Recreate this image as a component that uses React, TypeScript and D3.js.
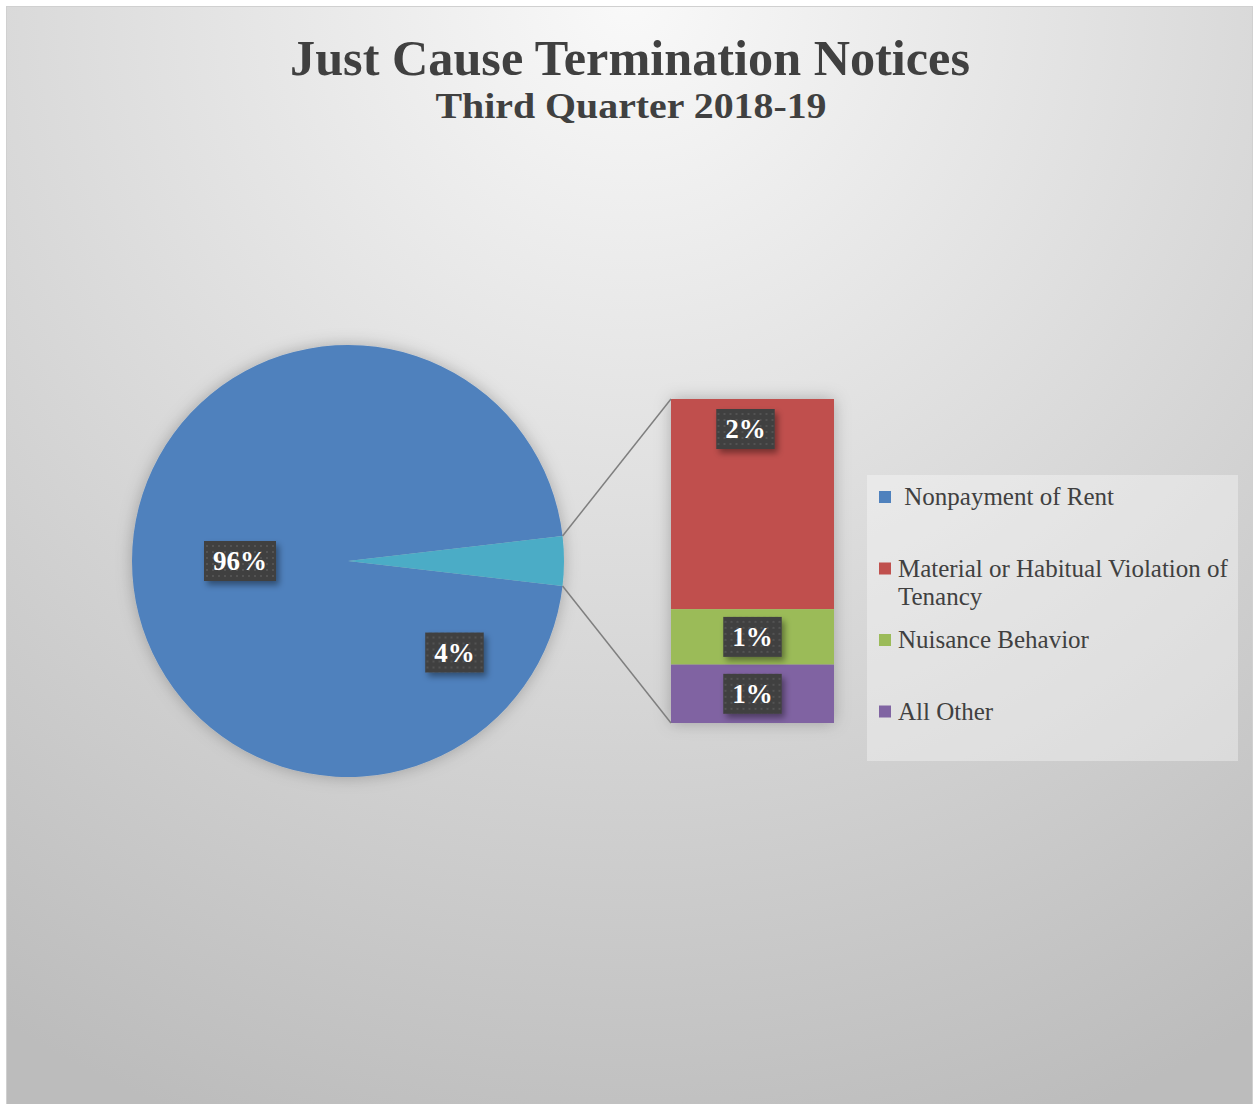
import { useEffect, useRef } from "react"
import * as d3 from "d3"

// chart data
const categories = ["Nonpayment of Rent", "Material or Habitual Violation of Tenancy", "Nuisance Behavior", "All Other"]
const notices = [2890, 72, 19, 20]
const legendLines = [[" Nonpayment of Rent"], ["Material or Habitual Violation of", "Tenancy"], ["Nuisance Behavior"], ["All Other"]]
const colors = ["#4f81bd", "#c0504d", "#9bbb59", "#8064a2"]
const otherColor = "#4bacc6"
const title = "Just Cause Termination Notices"
const subtitle = "Third Quarter 2018-19"

const W = 1255, H = 1104
const FONT = "'Liberation Serif', 'DejaVu Serif', serif"

export default function App() {
    const svgRef = useRef<SVGSVGElement>(null)

    useEffect(() => {
        const svg = d3.select(svgRef.current)
        svg.selectAll("*").remove()
        svg.attr("width", W).attr("height", H)

        const defs = svg.append("defs")
        const bg = defs.append("radialGradient").attr("id", "bg")
            .attr("gradientUnits", "userSpaceOnUse")
            .attr("cx", 630).attr("cy", 0).attr("r", 1200)
        bg.append("stop").attr("offset", 0).attr("stop-color", "#f9f9f9")
        bg.append("stop").attr("offset", 1).attr("stop-color", "#bcbcbc")

        const dots = defs.append("pattern").attr("id", "dots")
            .attr("patternUnits", "userSpaceOnUse").attr("width", 6).attr("height", 6)
        dots.append("rect").attr("width", 6).attr("height", 6).attr("fill", "#404040")
        dots.append("rect").attr("x", 2).attr("y", 2).attr("width", 2).attr("height", 2).attr("fill", "#525252")

        const glow = defs.append("filter").attr("id", "glow")
            .attr("x", "-20%").attr("y", "-20%").attr("width", "140%").attr("height", "140%")
        glow.append("feDropShadow").attr("dx", 0).attr("dy", 0).attr("stdDeviation", 8)
            .attr("flood-color", "#000").attr("flood-opacity", 0.25)

        const lblShadow = defs.append("filter").attr("id", "lblShadow")
            .attr("x", "-30%").attr("y", "-30%").attr("width", "170%").attr("height", "170%")
        lblShadow.append("feDropShadow").attr("dx", 3).attr("dy", 4).attr("stdDeviation", 3)
            .attr("flood-color", "#000").attr("flood-opacity", 0.4)

        // chart area
        svg.append("rect").attr("width", W).attr("height", H).attr("fill", "#fff")
        svg.append("rect")
            .attr("x", 6.5).attr("y", 6.5).attr("width", 1246).attr("height", H)
            .attr("fill", "url(#bg)").attr("stroke", "#d0d0d0")

        // titles
        svg.append("text")
            .attr("x", 630).attr("y", 75)
            .attr("text-anchor", "middle")
            .attr("font-family", FONT).attr("font-weight", "bold").attr("font-size", 50)
            .attr("fill", "#404040")
            .attr("textLength", 680).attr("lengthAdjust", "spacingAndGlyphs")
            .text(title)
        svg.append("text")
            .attr("x", 631).attr("y", 118)
            .attr("text-anchor", "middle")
            .attr("font-family", FONT).attr("font-weight", "bold").attr("font-size", 35)
            .attr("fill", "#404040")
            .attr("textLength", 391).attr("lengthAdjust", "spacingAndGlyphs")
            .text(subtitle)

        const total = d3.sum(notices)
        const small = notices.slice(1)
        const smallTotal = d3.sum(small)
        const pct = d3.format(".0%")

        // pie: main slice + combined "other" slice centred at 3 o'clock
        const cx = 348, cy = 561, r = 216
        const f = smallTotal / total
        const pie = d3.pie<number>().sort(null)
            .startAngle(Math.PI / 2 + f * Math.PI)
            .endAngle(Math.PI / 2 + f * Math.PI + 2 * Math.PI)
        const arcs = pie([notices[0], smallTotal])
        const arc = d3.arc<d3.PieArcDatum<number>>().innerRadius(0).outerRadius(r)

        const pieG = svg.append("g").attr("transform", `translate(${cx},${cy})`)
        pieG.append("g").attr("filter", "url(#glow)")
            .selectAll("path")
            .data(arcs)
            .join("path")
                .attr("d", arc)
                .attr("fill", (d, i) => i === 0 ? colors[0] : otherColor)

        // stacked bar of the small categories
        const bx = 671, bw = 163
        const y = d3.scaleLinear().domain([0, smallTotal]).range([399, 723])
        const cum = d3.cumsum(small)
        const segs = small.map((v, i) => ({ v, y0: y(cum[i] - v), y1: y(cum[i]), color: colors[i + 1] }))
        svg.append("g").attr("filter", "url(#glow)")
            .selectAll("rect")
            .data(segs)
            .join("rect")
                .attr("x", bx).attr("width", bw)
                .attr("y", d => d.y0).attr("height", d => d.y1 - d.y0)
                .attr("fill", d => d.color)

        // connector lines
        const a0 = Math.PI / 2 - f * Math.PI, a1 = Math.PI / 2 + f * Math.PI
        const pt = (a: number) => [cx + r * Math.sin(a), cy - r * Math.cos(a)]
        const p0 = pt(a0), p1 = pt(a1)
        svg.append("g").attr("stroke", "#7f7f7f").attr("stroke-width", 1.5)
            .selectAll("line")
            .data([[p0, [bx, y(0)]], [p1, [bx, y(smallTotal)]]])
            .join("line")
                .attr("x1", d => d[0][0]).attr("y1", d => d[0][1])
                .attr("x2", d => d[1][0]).attr("y2", d => d[1][1])

        // data labels
        const labels: { x: number, y: number, t: string }[] = []
        const mainMid = (arcs[0].startAngle + arcs[0].endAngle) / 2
        labels.push({ x: cx + r * 0.5 * Math.sin(mainMid), y: cy - r * 0.5 * Math.cos(mainMid), t: pct(notices[0] / total) })
        labels.push({ x: cx + r * 0.65 * Math.cos(0.71), y: cy + r * 0.65 * Math.sin(0.71), t: pct(f) })
        segs.forEach((s, i) => {
            labels.push({
                x: i === 0 ? bx + bw / 2 - 7 : bx + bw / 2,
                y: i === 0 ? s.y0 + 30 : (s.y0 + s.y1) / 2,
                t: pct(s.v / total)
            })
        })
        const lg = svg.append("g").selectAll("g").data(labels).join("g")
            .attr("transform", d => `translate(${d.x},${d.y})`)
        const rects = lg.append("rect").attr("fill", "url(#dots)").attr("filter", "url(#lblShadow)")
        const texts = lg.append("text")
            .attr("text-anchor", "middle").attr("dy", "0.35em")
            .attr("font-family", FONT).attr("font-weight", "bold").attr("font-size", 27)
            .attr("fill", "#fff")
            .text(d => d.t)
        texts.each(function (this: SVGTextElement, d, i) {
            const w = this.getComputedTextLength() + 18
            d3.select(rects.nodes()[i]).attr("x", -w / 2).attr("y", -20).attr("width", w).attr("height", 40)
        })

        // legend
        const lgx = 867, lgTop = 475, lgBot = 761
        svg.append("rect").attr("x", lgx).attr("y", lgTop).attr("width", 371).attr("height", lgBot - lgTop)
            .attr("fill", "#fff").attr("fill-opacity", 0.35)
        const ly = d3.scaleBand().domain(categories).range([lgTop, lgBot])
        const items = svg.append("g").selectAll("g").data(categories).join("g")
            .attr("transform", d => `translate(${lgx},${ly(d)! + 22})`)
        items.append("rect").attr("x", 12).attr("y", -6).attr("width", 12).attr("height", 12)
            .attr("fill", (d, i) => colors[i])
        items.append("text")
            .attr("font-family", FONT).attr("font-size", 25).attr("fill", "#404040")
            .attr("xml:space", "preserve").style("white-space", "pre")
            .selectAll("tspan")
            .data((d, i) => legendLines[i])
            .join("tspan")
                .attr("x", 31).attr("y", (d, j) => 8 + j * 28)
                .text(d => d)
    }, [])

    return (
        <div style={{ position: "absolute", left: 0, top: 0 }}>
            <svg ref={svgRef} style={{ display: "block" }}></svg>
        </div>
    )
}
